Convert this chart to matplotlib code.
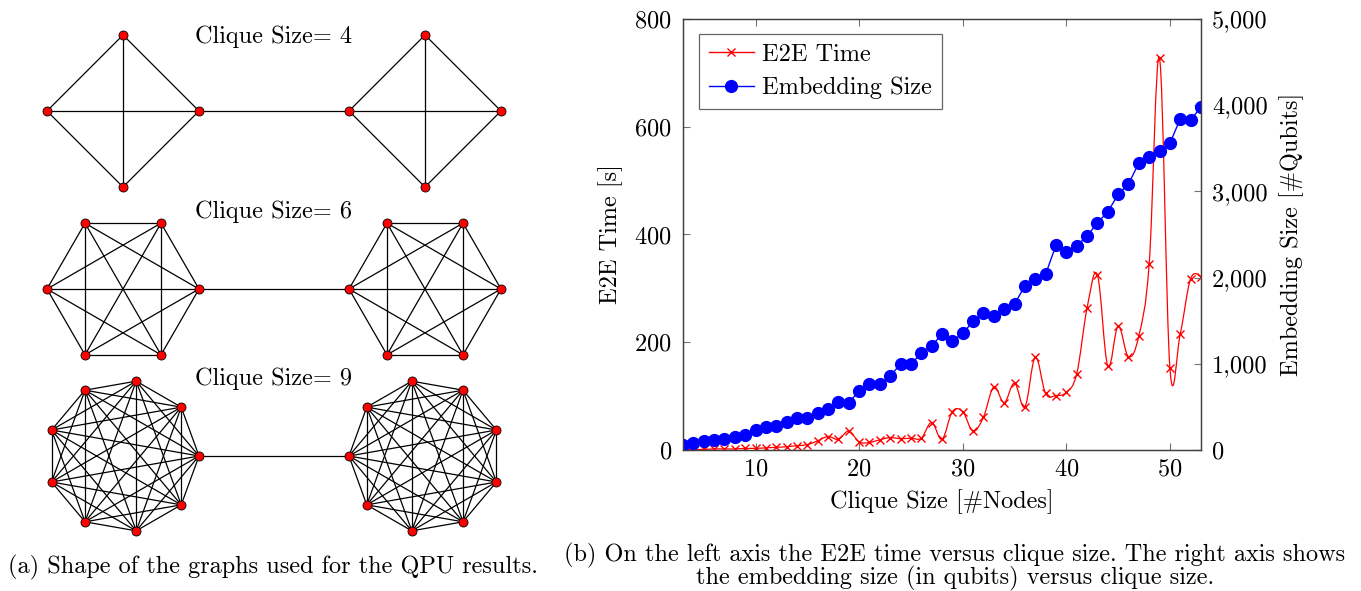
import matplotlib.pyplot as plt
import numpy as np
from matplotlib.path import Path
from matplotlib.patches import PathPatch
from matplotlib.lines import Line2D
from matplotlib.ticker import FuncFormatter

plt.rcParams['font.family'] = 'cmr10'
plt.rcParams['mathtext.fontset'] = 'cm'
plt.rcParams['axes.formatter.use_mathtext'] = True

# (a) clique sizes drawn as two cliques joined by one edge
clique_sizes = [4, 6, 9]

# (b) clique size vs E2E time and embedding size
nodes = list(range(3, 54))
e2e_time = [1, 1, 1, 2, 2, 2, 3, 3, 4, 5, 6, 8, 10, 17, 25, 20, 35, 15, 14, 19,
            23, 21, 22, 22, 51, 20, 71, 71, 35, 61, 117, 88, 124, 80, 172, 105,
            101, 107, 141, 263, 325, 156, 230, 173, 212, 346, 727, 152, 216, 318, 322]
embedding_size = [58, 85, 100, 116, 131, 151, 174, 232, 267, 278, 329, 367, 375,
                  427, 472, 560, 549, 684, 766, 762, 858, 998, 998, 1121, 1206,
                  1346, 1264, 1353, 1493, 1586, 1551, 1636, 1694, 1903, 1980,
                  2038, 2375, 2301, 2372, 2479, 2637, 2761, 2966, 3086, 3329,
                  3403, 3472, 3558, 3843, 3828, 3979]

caption_a = "(a) Shape of the graphs used for the QPU results."
caption_b1 = "(b) On the left axis the E2E time versus clique size. The right axis shows"
caption_b2 = "the embedding size (in qubits) versus clique size."

FS = 17.5


def smooth_path(x, y, t=0.18):
    # smooth curve through the points, like pgfplots "smooth"
    pts = np.column_stack([x, y]).astype(float)
    n = len(pts)
    verts = [pts[0]]
    codes = [Path.MOVETO]
    for i in range(n - 1):
        p0 = pts[max(i - 1, 0)]
        p1 = pts[i]
        p2 = pts[i + 1]
        p3 = pts[min(i + 2, n - 1)]
        verts += [p1 + t * (p2 - p0), p2 - t * (p3 - p1), p2]
        codes += [Path.CURVE4] * 3
    return Path(verts, codes)


W, H = 1361, 591
fig = plt.figure(figsize=(W / 100, H / 100), dpi=100)

# ---- left panel: graphs, in pixel-like coordinates ----
axg = fig.add_axes([0, 0, 1, 1])
axg.set_xlim(0, W)
axg.set_ylim(H, 0)
axg.axis('off')

rows_y = [111, 289, 456]
label_y = [37, 212, 379]
r = 76
for k, cy, ly in zip(clique_sizes, rows_y, label_y):
    ang = 2 * np.pi * np.arange(k) / k
    groups = []
    for cx, off in [(123, 0.0), (425, np.pi)]:
        px = cx + r * np.cos(ang + off)
        py = cy - r * np.sin(ang + off)
        groups.append((px, py))
        for i in range(k):
            for j in range(i + 1, k):
                axg.plot([px[i], px[j]], [py[i], py[j]], color='black', lw=0.9, zorder=1)
    # bridge between the two cliques
    axg.plot([groups[0][0][0], groups[1][0][0]], [groups[0][1][0], groups[1][1][0]],
             color='black', lw=0.9, zorder=1)
    for px, py in groups:
        axg.plot(px, py, 'o', color='red', mec='black', mew=0.6, ms=6.5, zorder=2)
    axg.text(274, ly, "Clique Size= %d" % k, ha='center', va='center', fontsize=FS)

fig.text(8 / W, 1 - 567 / H, caption_a, ha='left', va='center', fontsize=FS)
fig.text(955 / W, 1 - 555 / H, caption_b1, ha='center', va='center', fontsize=FS)
fig.text(955 / W, 1 - 578 / H, caption_b2, ha='center', va='center', fontsize=FS)

# ---- right panel ----
ax1 = fig.add_axes([683 / W, 1 - 450 / H, 518 / W, 431 / H])
ax2 = ax1.twinx()

ax1.add_patch(PathPatch(smooth_path(nodes, e2e_time), fill=False, edgecolor='red', lw=0.9, zorder=3))
ax1.plot(nodes, e2e_time, 'x', color='red', ms=6, mew=1.0, zorder=4)
ax2.plot(nodes, embedding_size, '-o', color='blue', ms=8.5, lw=1.0)

ax1.set_xlim(3, 53)
ax1.set_ylim(0, 800)
ax2.set_ylim(0, 5000)
ax1.set_xticks([10, 20, 30, 40, 50])
ax1.set_yticks([0, 200, 400, 600, 800])
ax2.set_yticks([0, 1000, 2000, 3000, 4000, 5000])
ax2.yaxis.set_major_formatter(FuncFormatter(lambda v, p: "{:,}".format(int(v))))

ax1.tick_params(axis='x', direction='in', top=True, length=5, width=0.8, color='0.45',
                labelsize=FS, pad=6)
ax1.tick_params(axis='y', direction='in', length=5, width=0.8, color='0.45',
                labelsize=FS, pad=8)
ax2.tick_params(axis='y', direction='in', length=5, width=0.8, color='0.45',
                labelsize=FS, pad=8)
for ax in (ax1, ax2):
    for s in ax.spines.values():
        s.set_color('0.25')
        s.set_linewidth(0.9)

ax1.set_xlabel("Clique Size [#Nodes]", fontsize=FS, labelpad=6)
ax1.set_ylabel("E2E Time [s]", fontsize=FS, labelpad=8)
ax2.set_ylabel("Embedding Size [#Qubits]", fontsize=FS, labelpad=8)

handles = [Line2D([], [], color='red', marker='x', ms=6, mew=1.0, lw=1.0),
           Line2D([], [], color='blue', marker='o', ms=8.5, lw=1.0)]
leg = ax2.legend(handles, ["E2E Time", "Embedding Size"], loc='upper left',
                 bbox_to_anchor=(0.031, 0.965), borderaxespad=0, fontsize=FS,
                 frameon=True, fancybox=False, edgecolor='0.25', handlelength=1.85,
                 handletextpad=0.35, borderpad=0.4, labelspacing=0.45)
leg.get_frame().set_linewidth(0.9)

fig.savefig('out.png', dpi=100)
